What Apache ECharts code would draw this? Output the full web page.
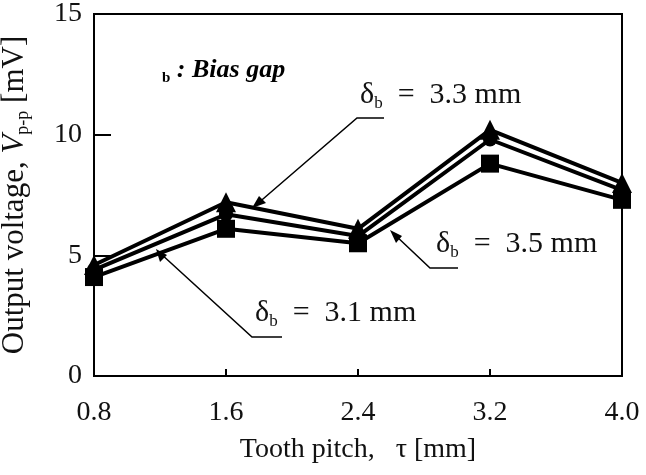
<!DOCTYPE html>
<html><head><meta charset="utf-8">
<script src="https://cdn.jsdelivr.net/npm/echarts@6/dist/echarts.min.js"></script>
<style>html,body{margin:0;padding:0;background:#fff}#c{width:646px;height:475px}</style>
</head><body><div id="c"></div>
<script>
const categories = ['0.8', '1.6', '2.4', '3.2', '4.0'];
const yTicks = [0, 5, 10, 15];
const gap33 = [4.6, 7.2, 6.1, 10.2, 8.0];
const gap35 = [4.4, 6.7, 5.8, 9.8, 7.7];
const gap31 = [4.1, 6.1, 5.5, 8.8, 7.3];

const F = 'Liberation Serif, Times New Roman, serif';
const chart = echarts.init(document.getElementById('c'));
const lineSeries = (name, data, symbol, size) => ({
  name, type: 'line', data, symbol, symbolSize: size,
  lineStyle: { color: '#000', width: 4 },
  itemStyle: { color: '#000' }, z: 3, animation: false
});
const lbl = (t, x, y) => ({
  type: 'text', left: x, top: y,
  style: {
    rich: {
      d: { fontFamily: F, fontSize: 30, lineHeight: 34, fill: '#111' },
      s: { fontFamily: F, fontSize: 17, lineHeight: 17, verticalAlign: 'bottom', fill: '#111' }
    },
    text: '{d|δ}{s|b}{d|  =  ' + t + ' mm}'
  }
});
chart.setOption({
  animation: false,
  grid: { left: 94, right: 24, top: 14, bottom: 99, show: true, borderColor: '#000', borderWidth: 2, outerBoundsMode: 'none', containLabel: false },
  xAxis: {
    type: 'category', data: categories, boundaryGap: false,
    axisLine: { lineStyle: { color: '#000', width: 2 } },
    axisTick: { inside: true, length: 7, lineStyle: { color: '#000', width: 2 } },
    axisLabel: { fontFamily: F, fontSize: 28, color: '#111', margin: 23 },
    name: 'Tooth pitch,   τ [mm]', nameLocation: 'middle', nameGap: 60,
    nameTextStyle: { fontFamily: F, fontSize: 28, color: '#111' }
  },
  yAxis: {
    type: 'value', min: 0, max: 15, interval: 5,
    splitLine: { show: false },
    axisLine: { show: true, lineStyle: { color: '#000', width: 2 } },
    axisTick: { show: true, inside: true, length: 17, lineStyle: { color: '#000', width: 2 } },
    axisLabel: { fontFamily: F, fontSize: 28, color: '#111', margin: 12,
      formatter: v => yTicks.includes(v) ? String(v) : '' },
    name: '{a|Output voltage, }{i|V}{s|p-p}{a| [mV]}', nameLocation: 'middle', nameGap: 62,
    nameTextStyle: { rich: {
      a: { fontFamily: F, fontSize: 31, lineHeight: 34, color: '#111' },
      i: { fontFamily: F, fontSize: 31, lineHeight: 34, fontStyle: 'italic', color: '#111' },
      s: { fontFamily: F, fontSize: 18, lineHeight: 18, verticalAlign: 'bottom', color: '#111' }
    } }
  },
  series: [
    lineSeries('δb = 3.1 mm', gap31, 'rect', 18),
    lineSeries('δb = 3.5 mm', gap35, 'circle', 14),
    lineSeries('δb = 3.3 mm', gap33, 'triangle', 20)
  ],
  graphic: [
    { type: 'text', left: 162, top: 57, style: { rich: {
        s: { fontFamily: F, fontSize: 15, lineHeight: 15, fontWeight: 'bold', verticalAlign: 'bottom', fill: '#000' },
        m: { fontFamily: F, fontSize: 26, lineHeight: 32, fontWeight: 'bold', fontStyle: 'italic', fill: '#000' }
      }, text: '{s|b}{m| : Bias gap}' } },
    lbl('3.3', 360, 80),
    lbl('3.5', 436, 229),
    lbl('3.1', 255, 298),
    { type: 'polyline', shape: { points: [[384, 118], [357, 118], [256, 205]] }, style: { stroke: '#000', lineWidth: 1.5, fill: null } },
    { type: 'polygon', shape: { points: [[252, 208], [266, 203], [259, 196]] }, style: { fill: '#000' } },
    { type: 'polyline', shape: { points: [[458, 268], [430, 268], [394, 234]] }, style: { stroke: '#000', lineWidth: 1.5, fill: null } },
    { type: 'polygon', shape: { points: [[390, 230], [396, 243], [402, 236]] }, style: { fill: '#000' } },
    { type: 'polyline', shape: { points: [[282, 337], [252, 337], [160, 253]] }, style: { stroke: '#000', lineWidth: 1.5, fill: null } },
    { type: 'polygon', shape: { points: [[156, 249], [160, 262], [167, 255]] }, style: { fill: '#000' } }
  ]
});
</script></body></html>
